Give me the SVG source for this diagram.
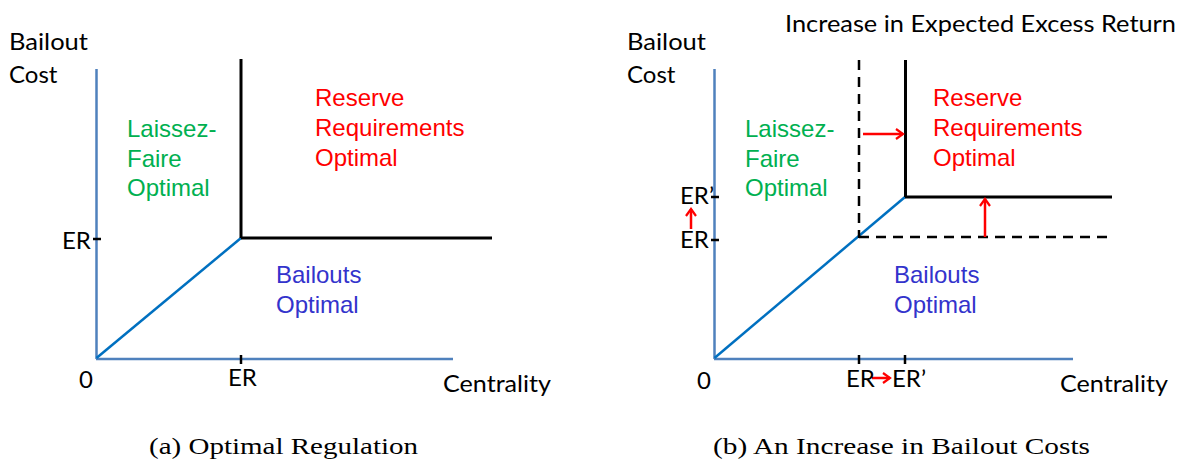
<svg xmlns="http://www.w3.org/2000/svg" width="1187" height="465" viewBox="0 0 1187 465">
<style>
.lbl{font-family:Lato,"Open Sans","Liberation Sans",sans-serif;font-size:24px;fill:#000}
.reg{font-family:"Liberation Sans",Arial,sans-serif;font-size:24px}
.grn{fill:#00B050}.red{fill:#FF0000}.blu{fill:#3333CC}
.cap{font-family:"Liberation Serif","Times New Roman",serif;font-size:24px;fill:#000}
.axis{stroke:#4F81BD;stroke-width:2.5;fill:none}
.diag{stroke:#0070C0;stroke-width:2.5;fill:none}
.bnd{stroke:#000;stroke-width:3;fill:none}
.dash{stroke:#000;stroke-width:2.5;fill:none;stroke-dasharray:10 7}
.tick{stroke:#000;stroke-width:2.5}
.arr{stroke:#FF0000;stroke-width:2.5;fill:none;marker-end:url(#ah)}
</style>
<defs>
<marker id="ah" markerWidth="10" markerHeight="12" refX="8" refY="6" orient="auto" markerUnits="userSpaceOnUse">
<path d="M1,1 L8,6 L1,11" fill="none" stroke="#FF0000" stroke-width="2.2"/>
</marker>
</defs>

<g id="panel-a">
<g id="connectors-a">
<line class="axis" x1="96.5" y1="69" x2="96.5" y2="359"/>
<line class="axis" x1="96" y1="359" x2="453" y2="359"/>
<line class="diag" x1="96.5" y1="358" x2="241" y2="238"/>
<line class="bnd" x1="241" y1="59" x2="241" y2="238"/>
<line class="bnd" x1="241" y1="238" x2="492" y2="238"/>
<line class="tick" x1="93" y1="239" x2="101" y2="239"/>
<line class="tick" x1="241" y1="355" x2="241" y2="364"/>
</g>
<g id="a-ylabel"><text class="lbl" x="9" y="50" textLength="79" lengthAdjust="spacingAndGlyphs">Bailout</text><text class="lbl" x="9" y="83">Cost</text></g>
<g id="a-laissez"><text class="reg grn" x="127" y="137">Laissez-</text><text class="reg grn" x="127" y="167">Faire</text><text class="reg grn" x="127" y="196">Optimal</text></g>
<g id="a-reserve"><text class="reg red" x="315" y="106">Reserve</text><text class="reg red" x="315" y="136">Requirements</text><text class="reg red" x="315" y="166">Optimal</text></g>
<g id="a-bailouts"><text class="reg blu" x="276" y="283">Bailouts</text><text class="reg blu" x="276" y="313">Optimal</text></g>
<g id="a-ticks"><text class="lbl" x="62" y="249">ER</text><text class="lbl" x="79" y="388">0</text><text class="lbl" x="228" y="386">ER</text><text class="lbl" x="443" y="392" textLength="108" lengthAdjust="spacingAndGlyphs">Centrality</text></g>
<text class="cap" x="149" y="454" textLength="269" lengthAdjust="spacingAndGlyphs">(a) Optimal Regulation</text>
</g>

<g id="panel-b">
<g id="connectors-b">
<line class="axis" x1="714.5" y1="69" x2="714.5" y2="359"/>
<line class="axis" x1="714" y1="359" x2="1073" y2="359"/>
<line class="diag" x1="714.5" y1="358" x2="905" y2="197"/>
<line class="dash" x1="859" y1="60" x2="859" y2="238"/>
<line class="dash" x1="859" y1="237" x2="1112" y2="237"/>
<line class="bnd" x1="905.5" y1="60" x2="905.5" y2="197"/>
<line class="bnd" x1="905" y1="197" x2="1112" y2="197"/>
<line class="tick" x1="711" y1="197" x2="719" y2="197"/>
<line class="tick" x1="711" y1="240" x2="719" y2="240"/>
<line class="tick" x1="859" y1="355" x2="859" y2="364"/>
<line class="tick" x1="905" y1="355" x2="905" y2="364"/>
<line class="arr" x1="863" y1="134" x2="903" y2="134"/>
<line class="arr" x1="985" y1="237" x2="985" y2="199"/>
<line class="arr" x1="691" y1="229" x2="691" y2="209"/>
<line class="arr" x1="872" y1="378" x2="890" y2="378"/>
</g>
<g id="b-title"><text class="lbl" x="785" y="32" textLength="391" lengthAdjust="spacingAndGlyphs">Increase in Expected Excess Return</text></g>
<g id="b-ylabel"><text class="lbl" x="627" y="50" textLength="79" lengthAdjust="spacingAndGlyphs">Bailout</text><text class="lbl" x="627" y="83">Cost</text></g>
<g id="b-laissez"><text class="reg grn" x="745" y="137">Laissez-</text><text class="reg grn" x="745" y="167">Faire</text><text class="reg grn" x="745" y="196">Optimal</text></g>
<g id="b-reserve"><text class="reg red" x="933" y="106">Reserve</text><text class="reg red" x="933" y="136">Requirements</text><text class="reg red" x="933" y="166">Optimal</text></g>
<g id="b-bailouts"><text class="reg blu" x="894" y="283">Bailouts</text><text class="reg blu" x="894" y="313">Optimal</text></g>
<g id="b-ticks"><text class="lbl" x="680" y="204">ER’</text><text class="lbl" x="680" y="248">ER</text><text class="lbl" x="697" y="389">0</text><text class="lbl" x="846" y="387">ER</text><text class="lbl" x="892" y="387">ER’</text><text class="lbl" x="1060" y="392" textLength="108" lengthAdjust="spacingAndGlyphs">Centrality</text></g>
<text class="cap" x="713" y="454" textLength="377" lengthAdjust="spacingAndGlyphs">(b) An Increase in Bailout Costs</text>
</g>
</svg>
